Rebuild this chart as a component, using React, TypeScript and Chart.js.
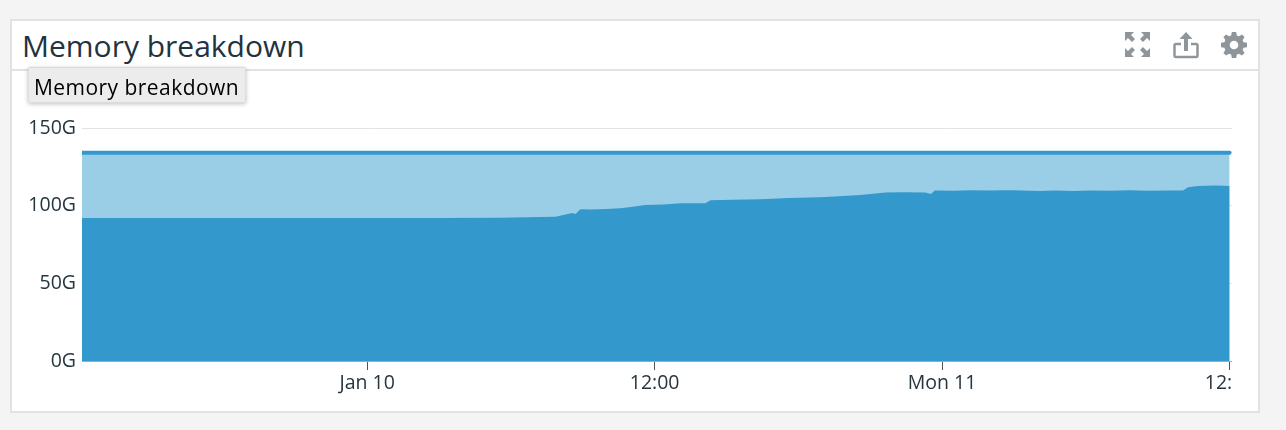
import React, { useEffect, useRef } from "react";
import { Chart, registerables } from "chart.js";

Chart.register(...registerables);

const hours = [-11.9, -7, -2, 3, 5.55, 7.86, 8.57, 8.7, 8.9, 9.32, 10, 10.57, 11.1, 11.6, 12.4, 13.08, 14.12, 14.33, 15.3, 16.42, 17.6, 18.93, 20.6, 21.65, 22.4, 23.3, 23.53, 23.7, 24.5, 25.2, 26, 26.45, 27, 27.6, 28.12, 28.7, 29.5, 30.2, 31, 31.8, 32.6, 33.4, 34.06, 34.26, 34.68, 35.4, 36];
const usedMemory = [92.1, 92.1, 92, 92, 92.2, 92.9, 95.3, 94.7, 97.7, 97.5, 97.9, 98.3, 99.3, 100.5, 100.8, 101.5, 101.5, 103.5, 103.8, 104.1, 104.9, 105.4, 106.9, 108.4, 108.6, 108.4, 107.5, 109.7, 109.6, 110, 109.7, 109.9, 110, 109.6, 109.5, 109.8, 109.5, 109.8, 109.6, 109.9, 109.6, 109.8, 109.7, 111.8, 112.7, 113, 112.6];
const totalMemory = hours.map(() => 134);
const tickHours = [0, 12, 24, 36];
const tickLabels = ["Jan 10", "12:00", "Mon 11", "12:00"];
const yTicks = [0, 50, 100, 150];

const FONT = "'Open Sans', 'Noto Sans', sans-serif";
const BORDER = "#e1e1e6";
const ICON = "#8f969b";

export default function App() {
  const ref = useRef<HTMLCanvasElement>(null);
  useEffect(() => {
    document.body.style.margin = "0";
    const chart = new Chart(ref.current!, {
      type: "line",
      data: {
        datasets: [
          {
            label: "Used",
            data: hours.map((h, i) => ({ x: h, y: usedMemory[i] })),
            borderWidth: 0,
            pointRadius: 0,
            fill: "origin",
            backgroundColor: "#3398cc",
            tension: 0,
          },
          {
            label: "Total",
            data: hours.map((h, i) => ({ x: h, y: totalMemory[i] })),
            borderWidth: 4,
            borderColor: "#3398cc",
            borderCapStyle: "round",
            pointRadius: 0,
            fill: "origin",
            backgroundColor: "#9acde6",
            tension: 0,
          },
        ],
      },
      options: {
        animation: false,
        responsive: false,
        layout: { padding: { top: 128, left: 0, right: 0, bottom: 0 } },
        plugins: { legend: { display: false }, tooltip: { enabled: false }, title: { display: false } },
        scales: {
          x: {
            type: "linear",
            min: -11.9,
            max: 36.1,
            afterBuildTicks: (s: any) => {
              s.ticks = tickHours.map((v) => ({ value: v }));
            },
            afterFit: (s: any) => {
              s.height = 69;
              s.paddingLeft = 0;
              s.paddingRight = 0;
            },
            grid: { drawOnChartArea: false, drawTicks: true, tickLength: 9, tickColor: "#4a5660", tickWidth: 1 },
            border: { display: true, color: "#a9a9a9", width: 1 },
            ticks: {
              autoSkip: false,
              maxRotation: 0,
              padding: 2,
              color: "#26363f",
              font: { family: FONT, size: 19.5 },
              callback: (v: any) => tickLabels[tickHours.indexOf(Number(v))] ?? "",
            },
          },
          y: {
            min: 0,
            max: 150,
            afterBuildTicks: (s: any) => {
              s.ticks = yTicks.map((v) => ({ value: v }));
            },
            afterFit: (s: any) => {
              s.width = 82;
              s.paddingTop = 0;
              s.paddingBottom = 0;
            },
            grid: { color: "#e2e2e2", drawTicks: false, tickLength: 0 },
            border: { display: false },
            ticks: {
              padding: 6,
              color: "#26363f",
              font: { family: FONT, size: 19.5 },
              callback: (v: any) => `${v}G`,
            },
          },
        },
      },
    } as any);
    return () => chart.destroy();
  }, []);

  return (
    <div style={{ position: "fixed", inset: 0, background: "#f4f4f4", overflow: "hidden" }}>
      <div style={{ position: "absolute", left: 10, top: 19, width: 1250, height: 394, boxSizing: "border-box", background: "#fff", border: `2px solid ${BORDER}` }} />
      <div style={{ position: "absolute", left: 12, top: 69, width: 1246, height: 2, background: BORDER }} />
      <div style={{ position: "absolute", left: 22, top: 26, font: `30px ${FONT}`, color: "#1f3340", lineHeight: "40px", whiteSpace: "nowrap" }}>Memory breakdown</div>
      <canvas ref={ref} width={1232} height={430} style={{ position: "absolute", left: 0, top: 0, width: 1232, height: 430 }} />
      <div style={{ position: "absolute", left: 28, top: 67, width: 218, height: 36, boxSizing: "border-box", background: "#ececec", border: "1px solid #dcdcdc", borderRadius: 2, boxShadow: "0 1px 4px rgba(0,0,0,0.25)", font: `21px ${FONT}`, color: "#000", lineHeight: "38px", paddingLeft: 5, whiteSpace: "nowrap", letterSpacing: "0.45px" }}>Memory breakdown</div>
      <svg style={{ position: "absolute", left: 1124, top: 31 }} width={28} height={28} viewBox="0 0 28 28" fill={ICON}>
        <path d="M1 1h9L7 4l4 4-3 3-4-4-3 3z" />
        <path d="M26 1h-9l3 3-4 4 3 3 4-4 3 3z" />
        <path d="M1 26h9l-3-3 4-4-3-3-4 4-3-3z" />
        <path d="M26 26h-9l3-3-4-4 3-3 4 4 3-3z" />
      </svg>
      <svg style={{ position: "absolute", left: 1173, top: 31 }} width={26} height={28} viewBox="0 0 26 28">
        <path d="M8 13H3a1.500 1.500 0 0 0-1.500 1.500v10A1.500 1.500 0 0 0 3 26h20a1.500 1.500 0 0 0 1.500-1.500v-10A1.500 1.500 0 0 0 23 13h-5" fill="none" stroke={ICON} strokeWidth={2.5} />
        <path d="M13 1l6.500 7H15v12h-4V8H6.500z" fill={ICON} />
      </svg>
      <svg style={{ position: "absolute", left: 1221, top: 32 }} width={26} height={26} viewBox="0 0 24 24" fill={ICON}>
        <path fillRule="evenodd" d="M10 0h4l.6 3.200 2 .8L19.300 2.200l2.500 2.500L20 7.400l.8 2L24 10v4l-3.200.6-.8 2 1.800 2.700-2.500 2.500-2.700-1.800-2 .8L14 24h-4l-.6-3.200-2-.8-2.700 1.800-2.500-2.500L4 16.600l-.8-2L0 14v-4l3.200-.6.8-2L2.200 4.700l2.500-2.500L7.400 4l2-.8zM12 8a4 4 0 1 0 0 8 4 4 0 0 0 0-8z" />
      </svg>
    </div>
  );
}
